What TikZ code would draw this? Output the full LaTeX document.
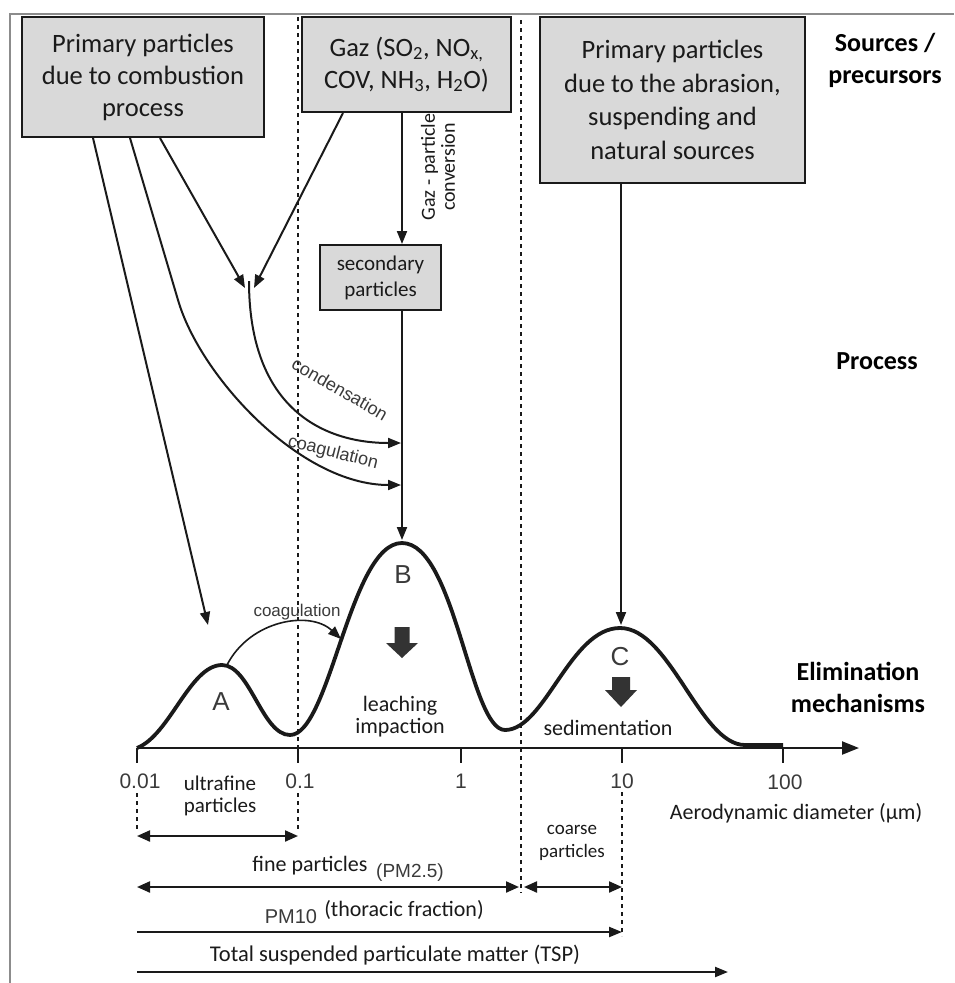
\documentclass[tikz,border=0pt]{standalone}
\usepackage{fontspec}
\setmainfont{Carlito}
\newfontfamily\arialf{Liberation Sans}
\usetikzlibrary{arrows.meta}
\definecolor{boxgray}{HTML}{D9D9D9}
\definecolor{ink}{HTML}{1A1A1A}
\definecolor{framegray}{HTML}{8C8C8C}
\definecolor{labgray}{HTML}{3A3A3A}
\begin{document}
\begin{tikzpicture}[x=1pt,y=-1pt,
  srcbox/.style={draw=ink, line width=2pt, fill=boxgray, align=center, inner sep=0pt, text=ink},
  bigtxt/.style={font=\fontsize{26.5}{32}\selectfont},
  headlab/.style={font=\bfseries\fontsize{26}{32}\selectfont, align=center, text=black},
  conn/.style={line width=2pt, draw=ink},
  tipA/.style={-{Triangle[length=13pt,width=10pt]}},
  dblA/.style={{Triangle[length=13pt,width=11pt]}-{Triangle[length=13pt,width=11pt]}},
  dotline/.style={line width=2.6pt, draw=ink, dash pattern=on 4pt off 4pt},
  pcurve/.style={line width=3.8pt, draw=ink},
  arial/.style={font=\arialf\fontsize{#1}{#1}\selectfont, text=labgray, inner sep=0pt},
  cal/.style 2 args={font=\fontsize{#1}{#2}\selectfont, text=ink, align=center, inner sep=0pt},
]
\useasboundingbox (0,0) rectangle (954,983);
% frame
\draw[framegray, line width=1.5pt] (10,983) -- (10,14) -- (954,14);

% dotted size limits
\draw[dotline] (298,17) -- (298,748);
\draw[dotline] (298,793) -- (298,830);
\draw[dotline] (137,793) -- (137,830);
\draw[dotline] (521,20) -- (521,893);
\draw[dotline] (622,792) -- (622,936);

% source boxes
\node[srcbox, bigtxt, minimum width=242pt, minimum height=120pt] (b1) at (143,77) {Primary particles\\due to combustion\\process};
\node[srcbox, bigtxt, minimum width=209pt, minimum height=95pt] (b2) at (406.5,64.5) {Gaz (SO\textsubscript{2}, NO\textsubscript{x,}\\COV, NH\textsubscript{3}, H\textsubscript{2}O)};
\node[srcbox, font=\fontsize{26.5}{33.5}\selectfont, minimum width=265pt, minimum height=166pt] (b3) at (672.5,100) {Primary particles\\due to the abrasion,\\suspending and\\natural sources};
\node[srcbox, cal={21}{26}, minimum width=121pt, minimum height=65pt] (sec) at (380.5,277.5) {secondary\\particles};

% row headers
\node[headlab] (hsrc) at (885,60.5) {Sources /\\precursors};
\node[headlab] (hproc) at (877,361) {Process};
\node[headlab] (helim) at (858,687) {Elimination\\mechanisms};

% key points
\coordinate (pkA) at (222,665);
\coordinate (pkB) at (402,542);
\coordinate (pkC) at (621,627);
\coordinate (cA) at (227,665);
\coordinate (bLeft) at (341,639);
\coordinate (aTip) at (208,625);
\coordinate (mrg) at (249,281);
\coordinate (mL) at (245,288);
\coordinate (mR) at (254,288);
\coordinate (condEnd) at (401,443);
\coordinate (coagEnd) at (401,485);
\coordinate (b1o1) at ([xshift=-50pt]b1.south);
\coordinate (b1o2) at ([xshift=-13pt]b1.south);
\coordinate (b1o3) at ([xshift=17pt]b1.south);
\coordinate (b2o1) at ([xshift=-63.5pt]b2.south);

% size distribution curve
\draw[pcurve] (137,748) .. controls (170,735) and (190,665) .. (222,665)
  .. controls (250,665) and (262,735) .. (290,735)
  .. controls (330,735) and (350,543) .. (402,543)
  .. controls (455,543) and (470,730) .. (505,730)
  .. controls (545,730) and (570,628) .. (620,628)
  .. controls (670,628) and (700,745) .. (745,745) -- (783,745);

% axis
\coordinate (ax0) at (137,748);
\coordinate (axE) at (859,748);
\draw[line width=2.2pt, ink, -{Triangle[length=17pt,width=13pt]}] (ax0) -- (axE);
\foreach \tx in {137,298,461,622,783} \draw[line width=2.2pt, ink] (\tx,748) -- (\tx,763);
\node[arial=21] (t1) at (140,781) {0.01};
\node[arial=21] (t2) at (300,781) {0.1};
\node[arial=21] (t3) at (461,781) {1};
\node[arial=21] (t4) at (622,781) {10};
\node[arial=21] (t5) at (785,782) {100};
\node[cal={22}{24}] (axlab) at (796,813) {Aerodynamic diameter (µm)};

% connectors from sources
\draw[conn, tipA] (b1o1) -- (aTip);
\draw[conn, tipA] (b1o2) -- (178,300) .. controls (200,376) and (300,485) .. (coagEnd);
\draw[conn, tipA] (b1o3) -- (mL);
\draw[conn, tipA] (b2o1) -- (mR);
\draw[conn, tipA] (mrg) .. controls (249,410) and (325,443) .. (condEnd);
\draw[conn, tipA] (b2.south -| pkB) -- (sec.north -| pkB);
\draw[conn, tipA] (sec.south -| pkB) -- ([yshift=2pt]pkB);
\draw[conn, tipA] (b3.south -| pkC) -- ([yshift=2pt]pkC);
\draw[conn, line width=1.6pt, tipA] (cA) .. controls (250,620) and (310,610) .. (bLeft);

% process labels
\node[cal={20}{20}, rotate=90] (gpc) at (438,167) {Gaz - particle\\conversion};
\node[arial=18, rotate=-30] (lcond) at (340,389) {condensation};
\node[arial=18, rotate=-14] (lcoag) at (333,453) {coagulation};
\node[arial=17] (lcoag2) at (297,612) {coagulation};

% mode letters
\node[arial=26] (mA) at (221,702) {A};
\node[arial=26] (mB) at (403,575) {B};
\node[arial=26] (mC) at (620,657) {C};

% elimination arrows
\begin{scope}[shift={(402,627)}]
\fill[black!80] (-7.5,0) -- (7.5,0) -- (7.5,16) -- (16,16) -- (0,31) -- (-16,16) -- (-7.5,16) -- cycle;
\end{scope}
\begin{scope}[shift={(621,677)}]
\fill[black!80] (-9,0) -- (9,0) -- (9,13) -- (16,13) -- (0,30) -- (-16,13) -- (-9,13) -- cycle;
\end{scope}
\node[cal={22}{22}] (lleach) at (400,717) {leaching\\impaction};
\node[cal={22}{24}] (lsed) at (608,728) {sedimentation};

% size classes
\node[cal={21}{22}] (lultra) at (220,796) {ultrafine\\particles};
\node[cal={19}{23}] (lcoarse) at (572,843) {coarse\\particles};
\node[cal={22}{24}] (lfine) at (310,866) {fine particles};
\node[arial=19] (lpm25) at (410,873) {(PM2.5)};
\node[arial=20] (lpm10) at (291,917) {PM10};
\node[cal={22}{24}] (lthor) at (404,910) {(thoracic fraction)};
\node[cal={22.5}{24}] (ltsp) at (395,955) {Total suspended particulate matter (TSP)};

\coordinate (u0) at (137,836); \coordinate (u1) at (298,836);
\coordinate (f0) at (137,887); \coordinate (f1) at (519,887);
\coordinate (c0) at (524,887); \coordinate (c1) at (622,887);
\coordinate (p0) at (137,932); \coordinate (p1) at (622,932);
\coordinate (s0) at (137,972); \coordinate (s1) at (728,972);
\draw[conn, line width=2.2pt, dblA] (u0) -- (u1);
\draw[conn, line width=2.2pt, dblA] (f0) -- (f1);
\draw[conn, line width=2.2pt, dblA] (c0) -- (c1);
\draw[conn, line width=2.2pt, tipA] (p0) -- (p1);
\draw[conn, line width=2.2pt, tipA] (s0) -- (s1);
\end{tikzpicture}
\end{document}
